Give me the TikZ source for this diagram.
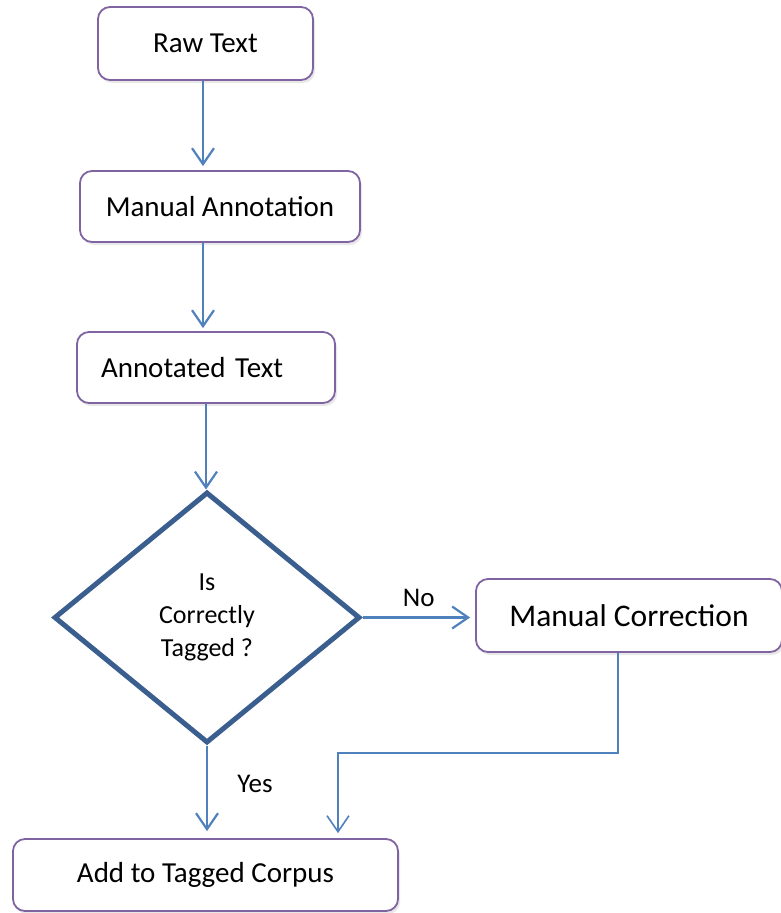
\documentclass[tikz,border=0pt]{standalone}
\usepackage{fontspec}
\setmainfont{Carlito}
\usetikzlibrary{shapes.geometric,arrows.meta,shadows}
\definecolor{boxline}{HTML}{8064A2}
\definecolor{arrowblue}{HTML}{4F81BD}
\definecolor{decisionblue}{HTML}{3A5F8F}

\begin{document}
\begin{tikzpicture}[x=1pt,y=-1pt,
        box/.style={draw=boxline,line width=1.8pt,rounded corners=12pt,fill=white,
            drop shadow={opacity=0.18,shadow xshift=2pt,shadow yshift=-3pt},
            font=\fontsize{29}{35}\selectfont},
        arr/.style={draw=arrowblue,line width=2.2pt,-{Straight Barb[length=16pt,width=22pt]}},
        lbl/.style={font=\fontsize{27}{32}\selectfont}]
        \useasboundingbox (0,0) rectangle (780,913);

        % boxes
        \node[box,minimum width=215pt,minimum height=73pt] (raw) at (205.5,43.5) {Raw Text};
        \node[box,minimum width=280pt,minimum height=71pt] (annot) at (220,206.5) {Manual Annotation};
        \node[box,minimum width=258pt,minimum height=71pt,text width=210pt,inner xsep=24pt,align=left] (annotated) at (206,367.5) {Annotated Text};
        \node[draw=decisionblue,line width=5pt,diamond,minimum width=306pt,minimum height=251pt,inner sep=0pt,
            align=center,font=\fontsize{26}{33}\selectfont] (check) at (207,617.5) {Is\\Correctly\\Tagged ?};
        \node[box,minimum width=306pt,minimum height=73pt,font=\fontsize{31.5}{38}\selectfont] (corr) at (629,615.5) {Manual Correction};
        \node[box,minimum width=385pt,minimum height=72pt] (corpus) at (205.5,875) {Add to Tagged Corpus};
        \coordinate (merge) at (338,753);

        % connectors
        \draw[arr,shorten >=4pt] ([xshift=-2.5pt]raw.south) -- ([xshift=-2.5pt]raw.south |- annot.north);
        \draw[arr,shorten >=3pt] ([xshift=-3pt]annot.south -| annotated) -- ([xshift=-3pt]annotated.north);
        \draw[arr] (annotated) -- (annotated |- check.north);
        \draw[arr,shorten >=5pt] (check.east) -- node[lbl,above=6pt] (no) {No} (check.east -| corr.west);
        \draw[arr,shorten >=7pt] (check.south) -- node[lbl,right=26pt,pos=0.42] (yes) {Yes} (check.south |- corpus.north);
        \draw[arr,line width=1.6pt,shorten >=5pt] ([xshift=-11pt]corr.south) |- (merge) -- (merge |- corpus.north);
\end{tikzpicture}
\end{document}
